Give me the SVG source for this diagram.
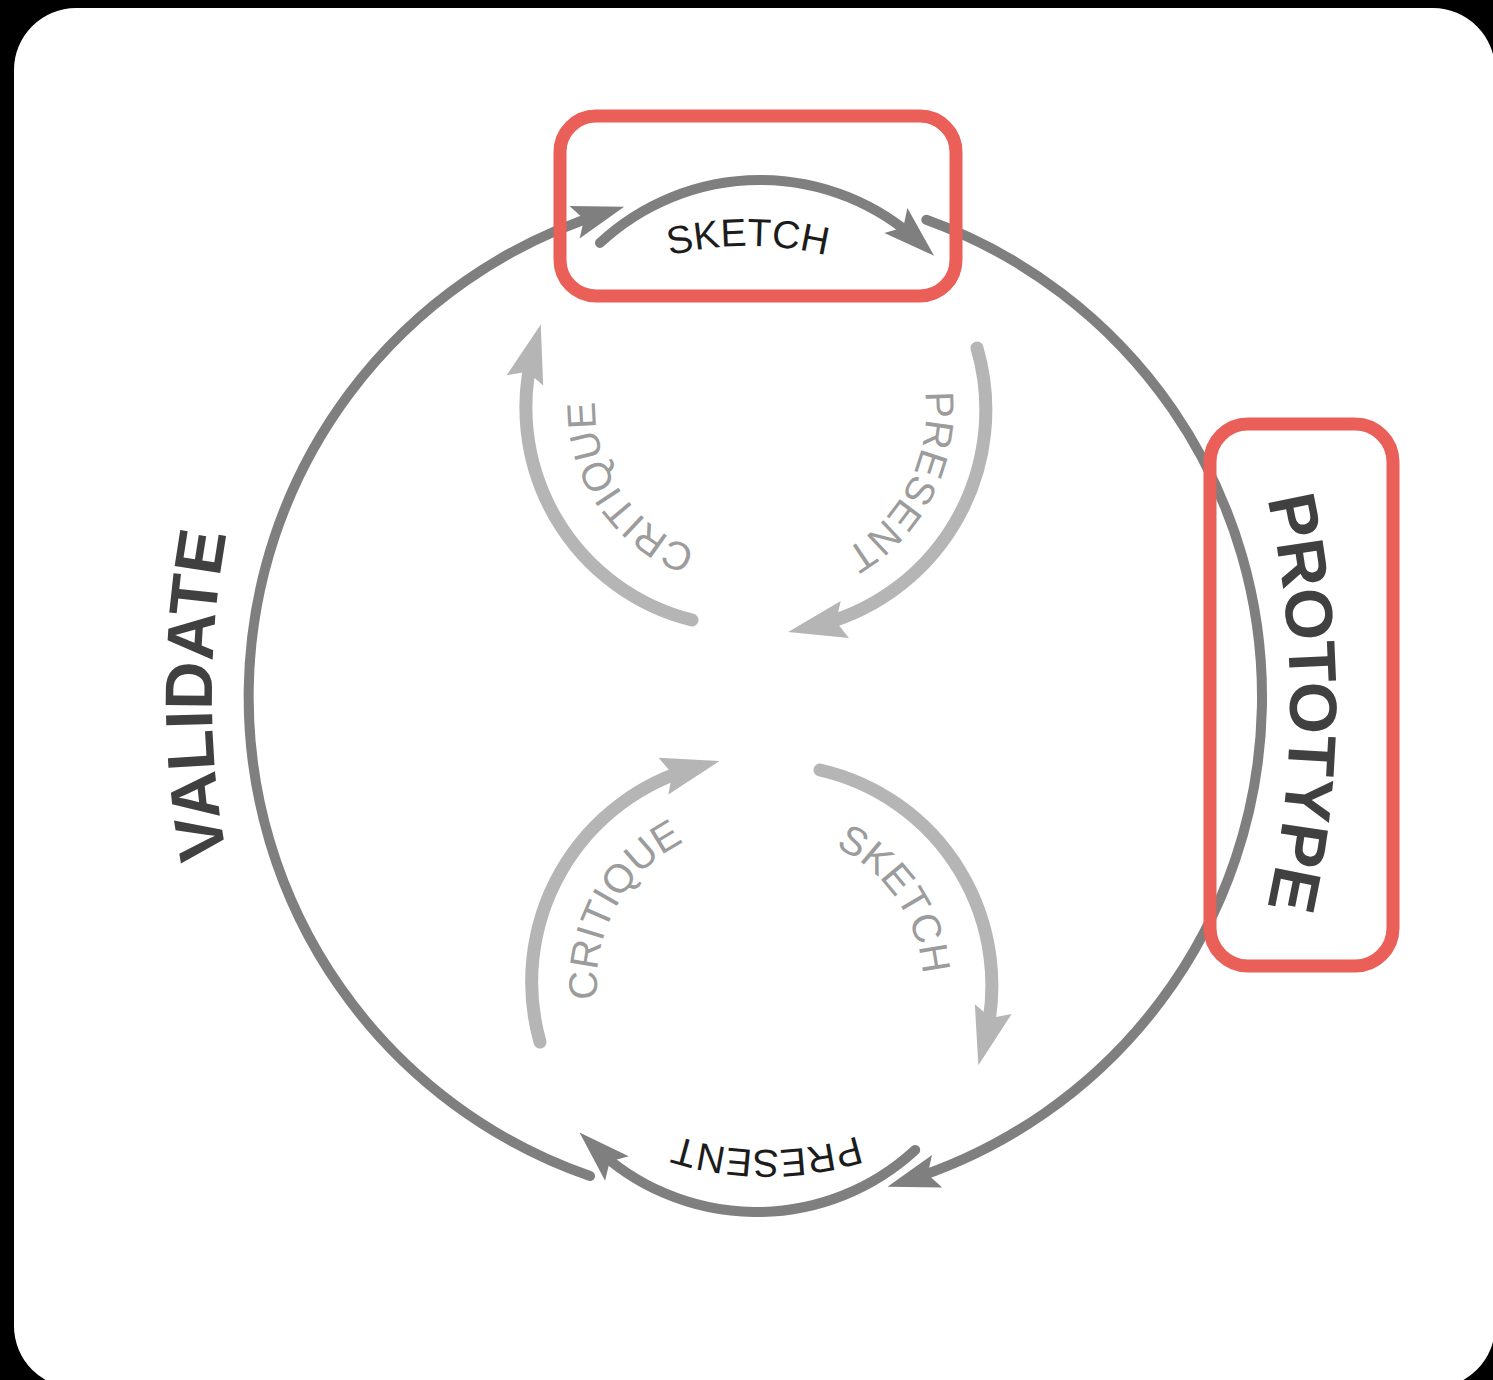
<svg xmlns="http://www.w3.org/2000/svg" width="1493" height="1380" viewBox="0 0 1493 1380">
  <defs>
    <style>
      .main { fill: none; stroke: #7f7f7f; stroke-width: 10; stroke-linecap: round; }
      .inner { fill: none; stroke: #b5b5b5; stroke-width: 13; stroke-linecap: round; }
      .lbl { font-family: "Liberation Sans", Arial, sans-serif; font-size: 39px; fill: #1c1c1c; }
      .ilbl { font-family: "Liberation Sans", Arial, sans-serif; font-size: 40px; fill: #9c9c9c; }
      .big { font-family: "Liberation Sans", Arial, sans-serif; font-size: 67px; font-weight: bold; fill: #404040; }
      .hl { fill: none; stroke: #ea5f58; stroke-width: 13; }
    </style>
    <marker id="arrDark" markerUnits="userSpaceOnUse" viewBox="-40 -20 65 40" refX="0" refY="0" markerWidth="65" markerHeight="40" orient="auto">
      <path d="M -32,-17 L 20,0 L -32,17 L -22,0 Z" fill="#7f7f7f"/>
    </marker>
    <marker id="arrLight" markerUnits="userSpaceOnUse" viewBox="-40 -22 70 44" refX="0" refY="0" markerWidth="70" markerHeight="44" orient="auto">
      <path d="M -34,-19 L 24,0 L -34,19 L -25,0 Z" fill="#b5b5b5"/>
    </marker>
    <path id="tpSketchTop" d="M 462.2 411 A 330 330 0 0 1 1033.8 411"/>
    <path id="tpPresentBot" d="M 1026.8 1000 A 300 300 0 0 1 507.2 1000"/>
    <path id="tpValidate" d="M 266.3 1002.8 A 900 900 0 0 1 266.3 387.2"/>
    <path id="tpPrototype" d="M 1233.9 384.9 A 930 930 0 0 1 1233.9 1021.1"/>
    <path id="tpCritiqueUL" d="M 756.8 556.5 A 150 150 0 0 1 609.6 342.4"/>
    <path id="tpPresentUR" d="M 899.9 321.8 A 162 162 0 0 1 772.5 571.8"/>
    <path id="tpCritiqueLL" d="M 619.7 1063 A 156 156 0 0 1 749.5 826"/>
    <path id="tpSketchLR" d="M 759.1 833.5 A 152 152 0 0 1 908.2 1050.4"/>
  </defs>

  <rect x="0" y="0" width="1493" height="1380" fill="#000"/>
  <rect x="14" y="8" width="1481" height="1380" rx="62" ry="62" fill="#fff"/>

  <g id="connectors">
    <path class="main" d="M 590 1176 A 507 507 0 0 1 605.1 212.7" marker-end="url(#arrDark)"/>
    <path class="main" d="M 926.3 219.8 A 507 507 0 0 1 906.6 1180.8" marker-end="url(#arrDark)"/>
    <path class="main" d="M 600 242.9 A 235 235 0 0 1 919.4 242.3" marker-end="url(#arrDark)"/>
    <path class="main" d="M 915.2 1150 A 234 234 0 0 1 593.9 1146.3" marker-end="url(#arrDark)"/>
    <path class="inner" d="M 692 620 A 219 219 0 0 1 534.2 347.7" marker-end="url(#arrLight)"/>
    <path class="inner" d="M 977 348 A 222 222 0 0 1 811.6 626.8" marker-end="url(#arrLight)"/>
    <path class="inner" d="M 540 1042 A 222 222 0 0 1 696.3 767.3" marker-end="url(#arrLight)"/>
    <path class="inner" d="M 820 770 A 221 221 0 0 1 984.5 1042.1" marker-end="url(#arrLight)"/>
  </g>

  <g id="label-sketch-top">
    <text class="lbl"><textPath href="#tpSketchTop" startOffset="50%" text-anchor="middle">SKETCH</textPath></text>
  </g>
  <g id="label-present-bottom">
    <text class="lbl"><textPath href="#tpPresentBot" startOffset="50%" text-anchor="middle">PRESENT</textPath></text>
  </g>
  <g id="label-validate">
    <text class="big"><textPath href="#tpValidate" startOffset="50%" text-anchor="middle">VALIDATE</textPath></text>
  </g>
  <g id="label-prototype">
    <text class="big"><textPath href="#tpPrototype" startOffset="50%" text-anchor="middle">PROTOTYPE</textPath></text>
  </g>
  <g id="label-critique-upper">
    <text class="ilbl"><textPath href="#tpCritiqueUL" startOffset="50%" text-anchor="middle">CRITIQUE</textPath></text>
  </g>
  <g id="label-present-upper">
    <text class="ilbl"><textPath href="#tpPresentUR" startOffset="50%" text-anchor="middle">PRESENT</textPath></text>
  </g>
  <g id="label-critique-lower">
    <text class="ilbl"><textPath href="#tpCritiqueLL" startOffset="50%" text-anchor="middle">CRITIQUE</textPath></text>
  </g>
  <g id="label-sketch-lower">
    <text class="ilbl"><textPath href="#tpSketchLR" startOffset="50%" text-anchor="middle">SKETCH</textPath></text>
  </g>

  <g id="highlight-sketch">
    <rect class="hl" x="560" y="116" width="396" height="180" rx="36" ry="36"/>
  </g>
  <g id="highlight-prototype">
    <rect class="hl" x="1210" y="424" width="183" height="542" rx="38" ry="38"/>
  </g>
</svg>
